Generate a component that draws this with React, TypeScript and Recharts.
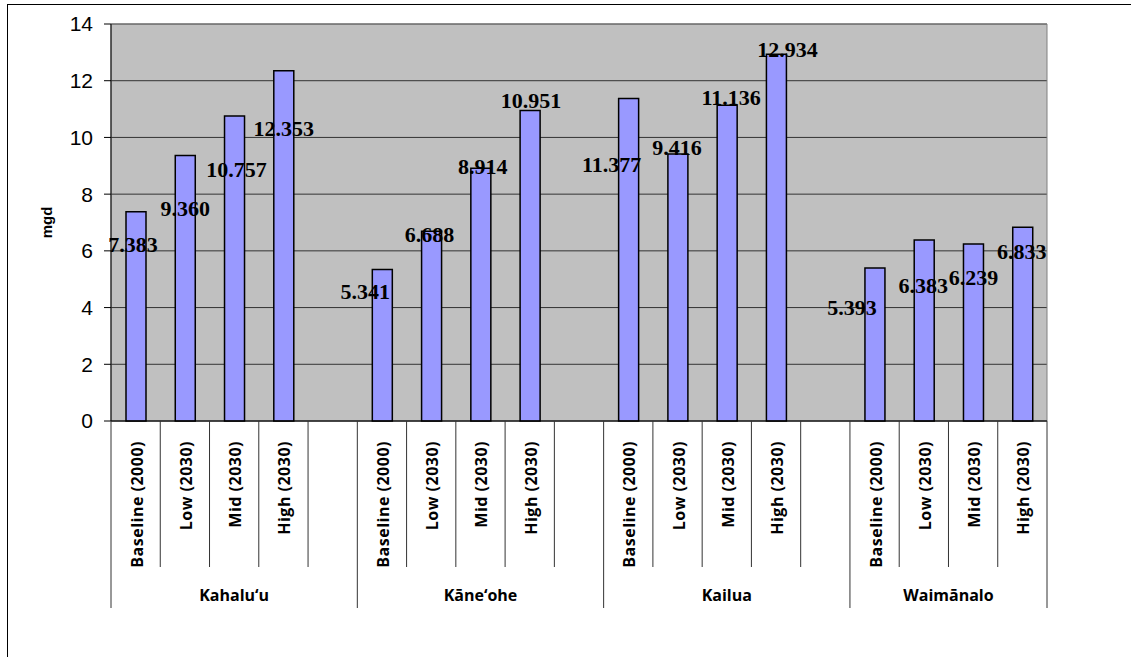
import { Bar, BarChart, CartesianGrid, LabelList, ReferenceArea, XAxis, YAxis } from "recharts";

const groups = ["Kahalu‘u", "Kāne‘ohe", "Kailua", "Waimānalo"];
const scenarios = ["Baseline (2000)", "Low (2030)", "Mid (2030)", "High (2030)"];

const kahaluu = [7.383, 9.36, 10.757, 12.353];
const kaneohe = [5.341, 6.688, 8.914, 10.951];
const kailua = [11.377, 9.416, 11.136, 12.934];
const waimanalo = [5.393, 6.383, 6.239, 6.833];
const groupValues = [kahaluu, kaneohe, kailua, waimanalo];

const yTicks = [0, 2, 4, 6, 8, 10, 12, 14];

// where each value label sits relative to its bar top (the source placed them by hand)
const labelNudge = [
  [[-3, 33], [0, 53], [2, 54], [0, 58]],
  [[-17, 22], [-2, 3], [2, -2], [1, -10]],
  [[-17, 66], [-1, -6], [4, -8], [11, -5]],
  [[-23, 39], [-1, 46], [0, 33], [-1, 24]],
];

type Row = {
  key: string;
  g: number;
  s: number; // -1 = empty spacer slot
  value: number | null;
  first: boolean;
  slots: number;
};

const rows: Row[] = [];
groups.forEach((_, g) => {
  const hasSpacer = g < groups.length - 1;
  const slots = scenarios.length + (hasSpacer ? 1 : 0);
  scenarios.forEach((_, s) => {
    rows.push({ key: `${g}-${s}`, g, s, value: groupValues[g][s], first: s === 0, slots });
  });
  if (hasSpacer) rows.push({ key: `${g}-gap`, g, s: -1, value: null, first: false, slots });
});

const W = 1131;
const H = 657;
const margin = { top: 24, right: 84, bottom: 36, left: 51 };
const Y_WIDTH = 60;
const X_HEIGHT = 200;
const band = (W - margin.left - Y_WIDTH - margin.right) / rows.length;

const sans = "'Open Sans', 'DejaVu Sans', sans-serif";

function CategoryTick(props: any) {
  const { x, y, payload } = props;
  const idx = rows.findIndex((r) => r.key === payload.value);
  const row = rows[idx];
  if (!row) return null;
  const left = x - band / 2;
  const isLast = idx === rows.length - 1;
  return (
    <g>
      <line x1={left} x2={left} y1={y} y2={y + (row.first ? 187 : 146)} stroke="#333" strokeWidth={1} />
      {isLast && <line x1={x + band / 2} x2={x + band / 2} y1={y} y2={y + 187} stroke="#333" strokeWidth={1} />}
      {row.s >= 0 && (
        <text
          transform={`translate(${x + 1},${y + 20}) rotate(-90)`}
          textAnchor="end"
          dominantBaseline="central"
          fontFamily={sans}
          fontWeight={700}
          fontSize={16}
          letterSpacing={0.5}
          fill="#000"
        >
          {scenarios[row.s]}
        </text>
      )}
      {row.first && (
        <text
          x={left + (row.slots * band) / 2}
          y={y + 174}
          textAnchor="middle"
          dominantBaseline="central"
          fontFamily={sans}
          fontWeight={700}
          fontSize={16}
          fill="#000"
        >
          {groups[row.g]}
        </text>
      )}
    </g>
  );
}

function ValueLabel(props: any) {
  const { x, y, width, value } = props;
  const row = rows.find((r) => r.value === value);
  if (!row || row.s < 0 || value == null) return null;
  const [dx, dy] = labelNudge[row.g][row.s];
  return (
    <text
      x={x + width / 2 + dx}
      y={y + dy}
      textAnchor="middle"
      dominantBaseline="central"
      fontFamily="'Liberation Serif', serif"
      fontWeight={700}
      fontSize={22}
      fill="#000"
    >
      {Number(value).toFixed(3)}
    </text>
  );
}

export default function App() {
  return (
    <div
      style={{
        position: "absolute",
        left: 0,
        top: 0,
        width: W,
        height: H,
        background: "#fff",
        overflow: "hidden",
      }}
    >
      <div
        style={{
          position: "absolute",
          left: 7,
          top: 4,
          width: 2000,
          height: 2000,
          border: "1px solid #000",
          boxSizing: "border-box",
        }}
      />
      <div style={{ position: "absolute", left: 0, top: 0 }}>
        <BarChart width={W} height={H} data={rows} margin={margin} barSize={20}>
          <CartesianGrid vertical={false} stroke="#333" fill="#C0C0C0" />
          <ReferenceArea y1={0} y2={14} fill="none" stroke="#808080" strokeWidth={1} fillOpacity={0} />
          <XAxis
            dataKey="key"
            height={X_HEIGHT}
            interval={0}
            tickLine={false}
            tickSize={0}
            tickMargin={0}
            axisLine={{ stroke: "#000" }}
            tick={<CategoryTick />}
          />
          <YAxis
            width={Y_WIDTH}
            domain={[0, 14]}
            ticks={yTicks}
            tickSize={7}
            tickMargin={11}
            axisLine={{ stroke: "#000" }}
            tickLine={{ stroke: "#000" }}
            tick={{ fontFamily: "'Liberation Sans', Arial, sans-serif", fontSize: 21, fill: "#000" }}
            label={{
              content: ({ viewBox }: any) => (
                <text
                  transform={`translate(${viewBox.x - 5},${viewBox.y + viewBox.height / 2}) rotate(-90)`}
                  textAnchor="middle"
                  dominantBaseline="central"
                  fontFamily="'Liberation Sans', Arial, sans-serif"
                  fontWeight={700}
                  fontSize={15}
                  fill="#000"
                >
                  mgd
                </text>
              ),
            }}
          />
          <Bar dataKey="value" fill="#9999FF" stroke="#000" strokeWidth={1.5} isAnimationActive={false}>
            <LabelList dataKey="value" content={<ValueLabel />} />
          </Bar>
        </BarChart>
      </div>
    </div>
  );
}
